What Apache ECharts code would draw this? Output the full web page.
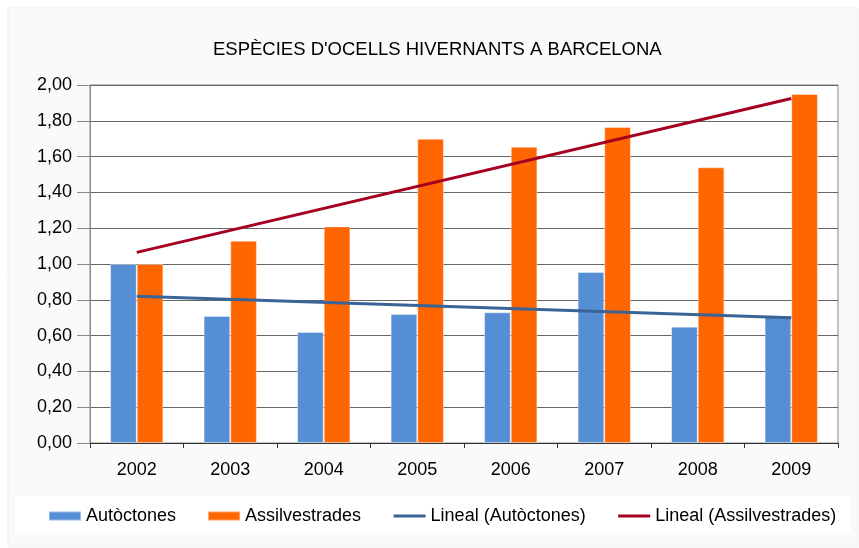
<!DOCTYPE html>
<html>
<head>
<meta charset="utf-8">
<script src="https://cdn.jsdelivr.net/npm/echarts@6/dist/echarts.min.js"></script>
<style>
  html, body { margin: 0; padding: 0; background: #fff; }
  #chart { width: 859px; height: 548px; }
</style>
</head>
<body>
<div id="chart"></div>
<script>
const years = ["2002", "2003", "2004", "2005", "2006", "2007", "2008", "2009"];
const autoctones = [1.0, 0.71, 0.62, 0.72, 0.73, 0.955, 0.65, 0.71];
const assilvestrades = [1.0, 1.13, 1.21, 1.70, 1.655, 1.765, 1.54, 1.95];
// trend lines: first and last year only
const trendAutoctones = [0.82, null, null, null, null, null, null, 0.70];
const trendAssilvestrades = [1.065, null, null, null, null, null, null, 1.925];

const fmt = (v) => v.toFixed(2).replace(".", ",");
const font = "Liberation Sans, Arial, sans-serif";

const chart = echarts.init(document.getElementById("chart"));
chart.setOption({
  backgroundColor: "#fff",
  textStyle: { fontFamily: font },
  graphic: [
    {
      type: "rect",
      silent: true,
      z: -10,
      shape: { x: 8, y: 8, width: 850, height: 539 },
      style: { fill: "#fafafa", stroke: "#efefef", lineWidth: 1 },
    },
    {
      type: "rect",
      silent: true,
      z: -9,
      shape: { x: 15, y: 496, width: 836, height: 37 },
      style: { fill: "#ffffff" },
    },
  ],
  title: {
    text: "ESPÈCIES D'OCELLS HIVERNANTS A BARCELONA",
    left: 208,
    top: 35,
    textStyle: { fontFamily: font, fontSize: 18.5, fontWeight: "normal", color: "#000" },
  },
  legend: {
    top: 502,
    left: 43,
    itemWidth: 32,
    itemHeight: 9,
    itemGap: 31,
    textStyle: { fontFamily: font, fontSize: 18, color: "#000" },
    data: [
      { name: "Autòctones", icon: "rect" },
      { name: "Assilvestrades", icon: "rect" },
      { name: "Lineal (Autòctones)", itemStyle: { opacity: 0 }, lineStyle: { width: 3 } },
      { name: "Lineal (Assilvestrades)", itemStyle: { opacity: 0 }, lineStyle: { width: 3 } },
    ],
  },
  grid: {
    left: 90,
    right: 21,
    top: 85,
    bottom: 105,
    show: true,
    backgroundColor: "#fff",
    borderColor: "#888",
    borderWidth: 1,
  },
  xAxis: {
    type: "category",
    data: years,
    axisLine: { lineStyle: { color: "#333", width: 1 } },
    axisTick: { show: true, length: 5, lineStyle: { color: "#333" } },
    axisLabel: { fontFamily: font, fontSize: 18, color: "#000", margin: 18 },
  },
  yAxis: {
    type: "value",
    min: 0,
    max: 2,
    interval: 0.2,
    axisLine: { show: true, lineStyle: { color: "#888", width: 1 } },
    axisTick: { show: true, length: 13, lineStyle: { color: "#888" } },
    axisLabel: { fontFamily: font, fontSize: 18, color: "#000", margin: 18, formatter: fmt },
    splitLine: { lineStyle: { color: "#666", width: 1 } },
  },
  series: [
    {
      name: "Autòctones",
      type: "bar",
      data: autoctones,
      barGap: "0%",
      barCategoryGap: "43%",
      itemStyle: { color: "#558ed5", borderColor: "rgba(255,255,255,0.4)", borderWidth: 1 },
    },
    {
      name: "Assilvestrades",
      type: "bar",
      data: assilvestrades,
      itemStyle: { color: "#ff6600", borderColor: "rgba(255,255,255,0.4)", borderWidth: 1 },
    },
    {
      name: "Lineal (Autòctones)",
      type: "line",
      data: trendAutoctones,
      connectNulls: true,
      symbol: "none",
      z: 5,
      itemStyle: { color: "#3a6396" },
      lineStyle: { color: "#3a6396", width: 3 },
    },
    {
      name: "Lineal (Assilvestrades)",
      type: "line",
      data: trendAssilvestrades,
      connectNulls: true,
      symbol: "none",
      z: 5,
      itemStyle: { color: "#a50021" },
      lineStyle: { color: "#a50021", width: 3 },
    },
  ],
});
</script>
</body>
</html>
